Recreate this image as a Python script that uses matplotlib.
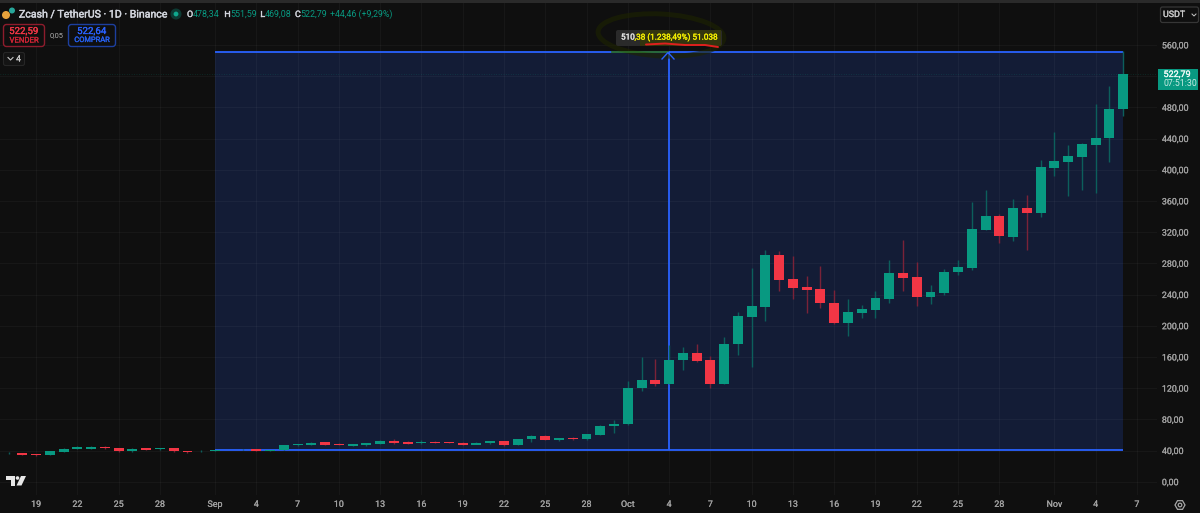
import matplotlib
matplotlib.use("Agg")
import matplotlib.pyplot as plt
import matplotlib.patheffects as pe
from matplotlib.patches import Rectangle, FancyBboxPatch, Ellipse, Polygon, RegularPolygon, Circle

# ---- data (day index: 0 = 1 Sep) ----
days = list(range(-16, 67))
opens = [36.0,36.2,36.8,35.5,33.8,38.0,42.0,42.5,44.9,42.8,38.9,42.8,41.5,42.8,38.9,38.9,39.8,
         40.6,40.8,42.0,40.0,40.6,46.6,47.5,
         50.4,48.7,46.1,46.6,48.7,52.6,50.8,49.1,50.8,50.8,50.0,47.4,49.1,51.7,47.4,54.3,58.5,53.4,56.0,54.3,60.3,71.8,
         73.9,119.7,130.4,125.7,155.6,164.6,155.6,125.7,176.5,211.6,224.0,290.6,259.9,249.2,247.0,229.0,203.9,216.7,220.0,
         234.2,267.6,262.4,236.8,241.9,268.4,274.4,323.1,340.6,314.1,350.9,344.0,402.6,410.3,416.3,431.7,440.2,478.34]
closes = [36.8,36.8,34.2,33.8,38.9,42.3,44.1,44.9,42.8,38.9,42.3,41.1,42.8,38.9,37.5,39.8,40.6,
         40.8,41.2,39.8,40.8,47.0,48.3,50.0,
         47.4,47.4,48.3,49.1,52.6,49.1,48.7,50.8,49.6,49.8,47.4,50.0,51.7,47.4,54.7,58.5,53.4,56.0,54.7,61.0,71.8,73.9,
         120.5,130.4,125.7,156.0,164.6,154.3,125.7,176.5,212.4,225.3,290.6,259.0,247.9,246.2,228.7,203.9,217.6,221.0,235.0,
         267.6,261.6,236.8,243.2,269.3,275.2,324.4,340.6,314.6,350.9,344.0,403.5,411.2,417.6,433.0,440.7,477.4,522.79]
highs = [37.5,38.0,37.2,36.0,39.2,42.8,45.5,46.2,45.2,43.0,43.2,43.0,43.0,43.5,39.2,40.5,40.9,
         41.0,42.5,42.2,41.0,47.2,48.8,51.5,
         51.0,49.0,48.6,49.8,53.0,55.0,52.0,53.0,52.5,51.0,50.6,51.4,52.2,52.0,55.0,60.5,59.5,56.3,57.0,61.5,72.2,79.0,
         129.0,159.9,157.3,175.0,172.7,176.5,160.7,185.0,217.1,274.0,297.0,295.8,289.4,264.1,276.5,245.3,234.2,226.5,244.0,
         283.8,309.9,281.2,252.2,272.7,284.2,358.6,374.0,343.2,362.4,367.6,412.4,448.3,431.7,434.7,484.3,506.9,551.59]
lows = [35.5,35.6,34.0,33.5,33.6,37.6,41.6,42.0,42.5,38.5,37.9,40.8,41.0,38.0,37.0,38.6,39.5,
         40.2,40.2,39.4,39.8,40.3,45.5,46.5,
         47.0,46.9,45.8,46.2,48.5,48.8,48.2,48.8,49.2,49.4,47.0,49.6,48.8,45.5,47.2,51.0,53.0,52.5,53.5,53.8,60.0,63.0,
         73.0,116.7,123.1,125.0,143.2,153.4,120.5,125.0,162.4,147.0,206.0,244.5,234.2,216.3,223.1,202.2,186.8,209.9,210.3,
         229.5,244.5,225.7,227.8,239.3,265.0,271.4,322.7,306.4,309.0,297.0,338.9,392.4,366.3,374.0,369.7,410.3,469.08]
price_ticks = [0,40,80,120,160,200,240,280,320,360,400,440,480,520,560]
price_labels = ["0,00","40,00","80,00","120,00","160,00","200,00","240,00","280,00","320,00","360,00","400,00","440,00","480,00","","560,00"]
date_ticks = [-13,-10,-7,-4,0,3,6,9,12,15,18,21,24,27,30,33,36,39,42,45,48,51,54,57,61,64,67]
date_labels = ["19","22","25","28","Sep","4","7","10","13","16","19","22","25","28","Oct","4","7","10","13","16","19","22","25","28","Nov","4","7"]
range_start, range_end = 0, 66
range_low, range_high = 40.6, 550.9
range_mid = 33
last_price = 522.79

BG = "#0f0f0f"; GREEN = "#089981"; RED = "#f23645"; BLUE = "#2962ff"
WG = "#0c5f5c"; WR = "#7a2238"
TXT = "#a2a2a2"
FONT = "Roboto"
plt.rcParams["font.family"] = [FONT, "DejaVu Sans"]


def bold(t, w=0.2):
    """Slightly heavier glyphs, closer to the reference's text."""
    t.set_path_effects([pe.withStroke(linewidth=w, foreground=t.get_color())])
    return t


fig = plt.figure(figsize=(12, 5.13), dpi=100, facecolor=BG)
X1, Y0, Y1 = 1157, 3, 495
ax = fig.add_axes([0, (513 - Y1) / 513, X1 / 1200, (Y1 - Y0) / 513], facecolor=BG)
ax.set_xlim(-215 / 13.76, (X1 - 215) / 13.76)
ax.set_ylim((481.7 - Y1) / 0.78, (481.7 - Y0) / 0.78)

for s in ax.spines.values():
    s.set_visible(False)
ax.set_axisbelow(False)
ax.yaxis.tick_right()
ax.set_yticks(price_ticks)
ax.set_yticklabels(price_labels, fontsize=6.4, color=TXT)
ax.set_xticks(date_ticks)
ax.set_xticklabels(date_labels, fontsize=6.4, color=TXT)
ax.tick_params(length=0, pad=3.5, axis="x")
ax.tick_params(length=0, pad=3.5, axis="y")
ax.grid(True, color="#ffffff", alpha=0.035, lw=0.9, zorder=2)
for lab in ax.get_xticklabels() + ax.get_yticklabels():
    bold(lab, 0.12)

# measurement range
ax.add_patch(Rectangle((range_start, range_low), range_end - range_start, range_high - range_low,
                       facecolor="#131c36", edgecolor="none", zorder=1))
ax.hlines([range_low, range_high], range_start, range_end, color=BLUE, lw=1.3, zorder=3)
ax.vlines(range_mid, range_low, range_high, color=BLUE, lw=1.3, zorder=3)
ax.hlines(last_price, -15.625, 68.5, color=GREEN, lw=0.5, ls=(0, (1, 2.5)), alpha=0.35, zorder=3)

# candles
cols = [GREEN if c >= o else RED for o, c in zip(opens, closes)]
wcols = [WG if c >= o else WR for o, c in zip(opens, closes)]
ax.vlines(days, lows, highs, colors=wcols, lw=1.0, zorder=4)
ax.bar(days, [abs(c - o) for o, c in zip(opens, closes)], bottom=[min(o, c) for o, c in zip(opens, closes)],
       width=0.72, color=cols, edgecolor="none", zorder=5)

# screen furniture in pixel coordinates
ov = fig.add_axes([0, 0, 1, 1], facecolor="none")
ov.set_xlim(0, 1200); ov.set_ylim(513, 0); ov.axis("off")
ov.add_patch(Rectangle((0, 0), 1200, 3, facecolor="#2a2a2a", edgecolor="none"))

# hand-drawn highlight
ov.add_patch(Ellipse((661, 35), 126, 42, angle=3, facecolor="none", edgecolor="#1e2400", alpha=0.6, lw=3.5, zorder=6))
ov.plot([612, 668], [52, 52], color="#2a6a1a", lw=1.2, zorder=6.5)
ov.add_patch(FancyBboxPatch((616, 30), 106, 16, boxstyle="round,pad=0,rounding_size=2",
                            facecolor="#2a2a2a", edgecolor="none", zorder=7))
ov.add_patch(Rectangle((640, 30), 81, 16, facecolor="#33350f", edgecolor="none", zorder=7))
bold(ov.text(621, 37.5, "510", fontsize=5.9, color="#e6e6e6", va="center", zorder=9))
bold(ov.text(634.5, 37.5, ",38 (1.238,49%) 51.038", fontsize=5.9, color="#f6f000", va="center", zorder=9))
ov.plot([646, 665, 685, 705, 718], [44.5, 43.5, 45, 45, 47], color="#e0201e", lw=1.4, zorder=9, solid_capstyle="round")

# arrow head
ov.plot([662, 668, 674], [59, 52.5, 59], color=BLUE, lw=1.0, zorder=8)

# header
ov.add_patch(Circle((6, 15), 4, facecolor="#e6a23c", edgecolor="none", zorder=6))
ov.add_patch(Circle((12, 10.5), 3, facecolor="#27a69a", edgecolor="none", zorder=7))
bold(ov.text(19, 14.5, "Zcash / TetherUS · 1D · Binance", fontsize=7.6, color="#d1d4dc", va="center"), 0.3)
ov.add_patch(Circle((176, 14), 5.5, facecolor="#0d3a33", edgecolor="none"))
ov.add_patch(Circle((176, 14), 2.4, facecolor="#0fa88e", edgecolor="none"))
ohlc = [("O", 187, "478,34", 193), ("H", 224, "551,59", 230), ("L", 260, "469,08", 265), ("C", 295, "522,79", 300)]
for k, kx, v, vx in ohlc:
    bold(ov.text(kx, 14.5, k, fontsize=6.4, color="#d1d4dc", va="center"))
    ov.text(vx, 14.5, v, fontsize=6.4, color=GREEN, va="center")
ov.text(330, 14.5, "+44,46 (+9,29%)", fontsize=6.3, color=GREEN, va="center")

# buttons
ov.add_patch(FancyBboxPatch((3.5, 24.5), 41, 22, boxstyle="round,pad=0,rounding_size=3", facecolor="#0f0f0f", edgecolor="#8d1c2c", lw=1))
bold(ov.text(24, 31, "522,59", fontsize=7.0, color="#f23645", ha="center", va="center"))
bold(ov.text(24, 40.5, "VENDER", fontsize=5.6, color="#d02435", ha="center", va="center"))
ov.text(56.5, 36, "0,05", fontsize=5.4, color="#b0b0b0", ha="center", va="center")
ov.add_patch(FancyBboxPatch((68.5, 24.5), 47, 22, boxstyle="round,pad=0,rounding_size=3", facecolor="#0f0f0f", edgecolor="#1d3f9e", lw=1))
bold(ov.text(92, 31, "522,64", fontsize=7.0, color="#2962ff", ha="center", va="center"))
bold(ov.text(92, 40.5, "COMPRAR", fontsize=5.4, color="#2660f0", ha="center", va="center"))
ov.add_patch(FancyBboxPatch((3.5, 52.5), 21, 13, boxstyle="round,pad=0,rounding_size=2", facecolor="#141414", edgecolor="#262626", lw=0.8))
ov.plot([8, 10.5, 13], [57.5, 60, 57.5], color="#c8c8c8", lw=0.8)
bold(ov.text(18.5, 59, "4", fontsize=6.2, color="#c8c8c8", ha="center", va="center"))

# currency button & last price tag
ov.add_patch(FancyBboxPatch((1160.5, 7), 38, 15.5, boxstyle="round,pad=0,rounding_size=2", facecolor="#0f0f0f", edgecolor="#363636", lw=0.9))
bold(ov.text(1163, 14.5, "USDT", fontsize=6.4, color="#c8c8c8", va="center"))
ov.plot([1192, 1194, 1196], [14, 16, 14], color="#c8c8c8", lw=0.7)
ov.add_patch(Rectangle((1158, 69), 40, 21, facecolor=GREEN, edgecolor="none"))
bold(ov.text(1163.5, 74.5, "522,79", fontsize=6.5, color="#f0faf7", va="center"))
ov.text(1163.5, 84, "07:51:30", fontsize=6.3, color="#c8ebe3", va="center")

# logo
ov.add_patch(Polygon([(6, 476), (15, 476), (15, 485.5), (11, 485.5), (11, 480), (6, 480)], facecolor="#e8e8e8", edgecolor="none"))
ov.add_patch(Circle((17.5, 478), 1.8, facecolor="#e8e8e8", edgecolor="none"))
ov.add_patch(Polygon([(21, 476), (26, 476), (21.5, 485.5), (16.5, 485.5)], facecolor="#e8e8e8", edgecolor="none"))

# settings icon
ov.add_patch(RegularPolygon((1180, 505), 6, radius=5, orientation=3.14159 / 2, facecolor="none", edgecolor="#a8a8a8", lw=0.9))
ov.add_patch(Circle((1180, 505), 1.8, facecolor="none", edgecolor="#a8a8a8", lw=0.9))

fig.savefig("out.png", dpi=100, facecolor=BG)
